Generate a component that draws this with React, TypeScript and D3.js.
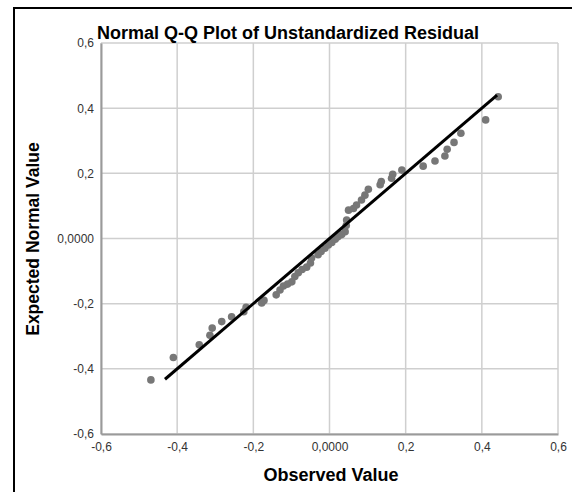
import { useEffect, useRef } from "react";
import * as d3 from "d3";

// observed residuals and their expected normal values
const observed = [
  -0.469, -0.41, -0.342, -0.314, -0.308, -0.283, -0.257, -0.225, -0.219, -0.178,
  -0.172, -0.14, -0.13, -0.121, -0.11, -0.099, -0.091, -0.082, -0.072, -0.06,
  -0.05, -0.047, -0.03, -0.022, -0.012, -0.003, 0.006, 0.015, 0.022, 0.032,
  0.041, 0.044, 0.045, 0.05, 0.063, 0.071, 0.084, 0.093, 0.102, 0.133,
  0.136, 0.163, 0.166, 0.19, 0.246, 0.277, 0.303, 0.309, 0.327, 0.345,
  0.41, 0.443,
];
const expected = [
  -0.434, -0.365, -0.326, -0.297, -0.275, -0.255, -0.24, -0.225, -0.211, -0.198,
  -0.19, -0.173, -0.158, -0.146, -0.14, -0.133, -0.117, -0.105, -0.095, -0.088,
  -0.075, -0.06, -0.05, -0.04, -0.03, -0.02, -0.012, -0.002, 0.005, 0.012,
  0.021, 0.04, 0.057, 0.087, 0.092, 0.103, 0.118, 0.133, 0.151, 0.165,
  0.175, 0.185, 0.197, 0.21, 0.222, 0.238, 0.253, 0.274, 0.295, 0.323,
  0.364, 0.435,
];
// reference line y = x
const lineEnds = [-0.432, 0.44];

const tickValues = [-0.6, -0.4, -0.2, 0, 0.2, 0.4, 0.6];
const tickLabels = ["-0,6", "-0,4", "-0,2", "0,0000", "0,2", "0,4", "0,6"];

const title = "Normal Q-Q Plot of Unstandardized Residual";
const xTitle = "Observed Value";
const yTitle = "Expected Normal Value";

const W = 572;
const H = 492;
const font = "'Liberation Sans', Arial, sans-serif";

export default function App() {
  const ref = useRef<SVGSVGElement>(null);

  useEffect(() => {
    const svg = d3.select(ref.current);
    svg.selectAll("*").remove();

    const left = 101, right = 558, top = 43, bottom = 434;
    const x = d3.scaleLinear().domain([-0.6, 0.6]).range([left, right]);
    const y = d3.scaleLinear().domain([-0.6, 0.6]).range([bottom, top]);

    svg.append("rect").attr("width", W).attr("height", H).attr("fill", "#fff");

    // outer frame
    svg
      .append("rect")
      .attr("x", 14)
      .attr("y", 8)
      .attr("width", W)
      .attr("height", H)
      .attr("fill", "none")
      .attr("stroke", "#000")
      .attr("stroke-width", 2);

    // grid
    const grid = svg.append("g").attr("stroke", "#cfcfcf").attr("stroke-width", 1.5);
    tickValues.forEach((v) => {
      grid.append("line").attr("x1", x(v)).attr("x2", x(v)).attr("y1", top).attr("y2", bottom);
      grid.append("line").attr("y1", y(v)).attr("y2", y(v)).attr("x1", left).attr("x2", right);
    });

    // axes
    const fmt = (d: d3.NumberValue) => tickLabels[tickValues.indexOf(+d)];
    const xAxis = svg
      .append("g")
      .attr("transform", `translate(0,${bottom})`)
      .call(d3.axisBottom(x).tickValues(tickValues).tickFormat(fmt).tickSize(0).tickPadding(8));
    const yAxis = svg
      .append("g")
      .attr("transform", `translate(${left},0)`)
      .call(d3.axisLeft(y).tickValues(tickValues).tickFormat(fmt).tickSize(0).tickPadding(7));
    [xAxis, yAxis].forEach((g) => {
      g.select(".domain").attr("stroke", "#9a9a9a").attr("stroke-width", 2);
      g.selectAll("text")
        .attr("font-family", font)
        .attr("font-size", 12)
        .attr("fill", "#333");
    });

    // points
    svg
      .append("g")
      .selectAll("circle")
      .data(observed)
      .join("circle")
      .attr("cx", (d) => x(d))
      .attr("cy", (_, i) => y(expected[i]))
      .attr("r", 3.8)
      .attr("fill", "#777");

    // reference line
    svg
      .append("line")
      .attr("x1", x(lineEnds[0]))
      .attr("y1", y(lineEnds[0]))
      .attr("x2", x(lineEnds[1]))
      .attr("y2", y(lineEnds[1]))
      .attr("stroke", "#000")
      .attr("stroke-width", 3);

    // titles
    svg
      .append("text")
      .attr("x", 288)
      .attr("y", 39)
      .attr("text-anchor", "middle")
      .attr("font-family", font)
      .attr("font-weight", "bold")
      .attr("font-size", 18)
      .text(title);
    svg
      .append("text")
      .attr("x", 331)
      .attr("y", 481)
      .attr("text-anchor", "middle")
      .attr("font-family", font)
      .attr("font-weight", "bold")
      .attr("font-size", 18)
      .text(xTitle);
    svg
      .append("text")
      .attr("transform", `translate(39,239) rotate(-90)`)
      .attr("text-anchor", "middle")
      .attr("font-family", font)
      .attr("font-weight", "bold")
      .attr("font-size", 17.5)
      .text(yTitle);
  }, []);

  return (
    <svg
      ref={ref}
      width={W}
      height={H}
      style={{ position: "absolute", left: 0, top: 0 }}
    />
  );
}
